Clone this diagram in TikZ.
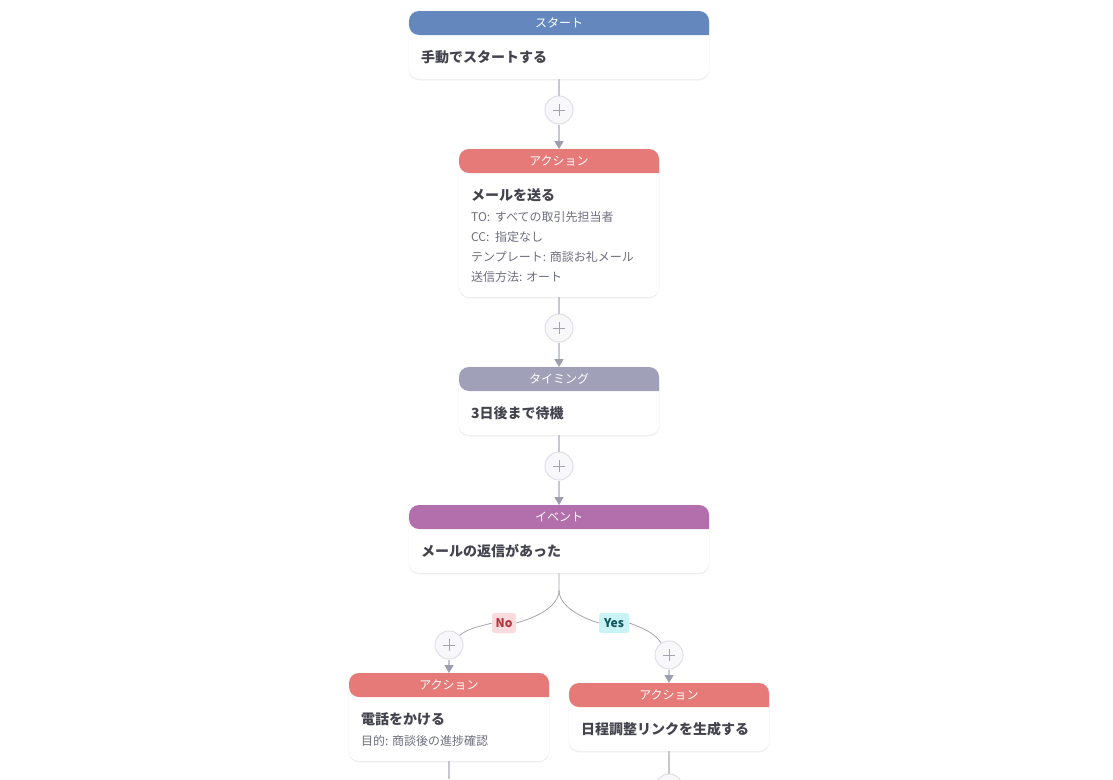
\documentclass[tikz,border=0pt]{standalone}
\usepackage{fontspec}
\setmainfont{Noto Sans CJK JP}
\usetikzlibrary{arrows.meta,shadows}
\definecolor{startblue}{HTML}{6488BE}
\definecolor{actionred}{HTML}{E57A78}
\definecolor{timinggray}{HTML}{A0A0B8}
\definecolor{eventpurple}{HTML}{B26FAB}
\definecolor{stemgray}{HTML}{C6C7D4}
\definecolor{tipgray}{HTML}{9C9EB0}
\definecolor{curvegray}{HTML}{A4A5B0}
\definecolor{titleink}{HTML}{44444F}
\definecolor{detailink}{HTML}{6E6F7E}
\definecolor{plusring}{HTML}{DEDFE8}
\definecolor{plusfill}{HTML}{F8F8FB}
\definecolor{plusink}{HTML}{A2A4B2}
\definecolor{nofill}{HTML}{FADCDF}
\definecolor{noink}{HTML}{B8343C}
\definecolor{yesfill}{HTML}{C9F3F5}
\definecolor{yesink}{HTML}{0F5560}
\tikzset{
	card/.style={rectangle,rounded corners=10pt,fill=white,inner sep=0pt,outer sep=0pt,minimum width=#1,
		preaction={draw=black!3,line width=1.4pt},
		drop shadow={opacity=0.10,shadow xshift=0pt,shadow yshift=-1.5pt}},
	headfill/.style={path picture={\fill[#1] (path picture bounding box.north west) rectangle ++(400,24);}},
	headtext/.style={text=white,font=\fontsize{12}{14}\selectfont,inner sep=0pt},
	titletext/.style={anchor=west,text=titleink,font=\fontsize{14}{16}\selectfont\bfseries,inner sep=0pt},
	detailtext/.style={anchor=west,text=detailink,font=\fontsize{12}{14}\selectfont,inner sep=0pt},
	plusnode/.style={circle,draw=plusring,line width=1pt,fill=plusfill,minimum size=28pt,inner sep=0pt,
		path picture={\draw[plusink,line width=0.9pt] (path picture bounding box.center) +(-6,0) -- +(6,0) +(0,-6) -- +(0,6);}},
	stem/.style={draw=stemgray,line width=1.6pt},
	stemtip/.style={stem,-{Triangle[width=9pt,length=8pt,color=tipgray]}},
	branch/.style={draw=curvegray,line width=0.8pt},
	choice/.style={rounded corners=2.5pt,inner xsep=3pt,minimum height=20pt,minimum width=#1,
		font=\fontsize{12}{14}\selectfont\bfseries},
}
\begin{document}
\begin{tikzpicture}[x=1pt,y=-1pt]
	\useasboundingbox (0,0) rectangle (1113,779);
	% cards
	\path (559,45) node[card=300pt,minimum height=68pt,headfill=startblue] (start) {}
	(start.north west) +(150,12) node[headtext] (startH) {スタート}
	+(12,46) node[titletext] (startT) {手動でスタートする};
	\path (559,223) node[card=200pt,minimum height=148pt,headfill=actionred] (mail) {}
	(mail.north west) +(100,12) node[headtext] (mailH) {アクション}
	+(12,46) node[titletext] (mailT) {メールを送る}
	+(12,67.7) node[detailtext] (mailA) {TO:\hspace{2pt} すべての取引先担当者}
	+(12,87.7) node[detailtext] (mailB) {CC:\hspace{3pt} 指定なし}
	+(12,107.7) node[detailtext] (mailC) {テンプレート: 商談お礼メール}
	+(12,127.7) node[detailtext] (mailD) {送信方法: オート};
	\path (559,401) node[card=200pt,minimum height=68pt,headfill=timinggray] (wait) {}
	(wait.north west) +(100,12) node[headtext] (waitH) {タイミング}
	+(12,46) node[titletext] (waitT) {3日後まで待機};
	\path (559,539) node[card=300pt,minimum height=68pt,headfill=eventpurple] (reply) {}
	(reply.north west) +(150,12) node[headtext] (replyH) {イベント}
	+(12,46) node[titletext] (replyT) {メールの返信があった};
	\path (449,717) node[card=200pt,minimum height=88pt,headfill=actionred] (call) {}
	(call.north west) +(100,12) node[headtext] (callH) {アクション}
	+(12,46) node[titletext] (callT) {電話をかける}
	+(12,67.7) node[detailtext] (callA) {目的: 商談後の進捗確認};
	\path (669,717) node[card=200pt,minimum height=68pt,headfill=actionred] (link) {}
	(link.north west) +(100,12) node[headtext] (linkH) {アクション}
	+(12,46) node[titletext] (linkT) {日程調整リンクを生成する};
	% add buttons
	\path (559,110) node[plusnode] (add1) {}
	(559,328) node[plusnode] (add2) {}
	(559,466) node[plusnode] (add3) {}
	(449,645) node[plusnode] (addno) {}
	(669,655) node[plusnode] (addyes) {}
	(669,788) node[plusnode] (addnext) {};
	\path (504,623) node[choice=24pt,fill=nofill,text=noink] (no) {No}
	(614,623) node[choice=30pt,fill=yesfill,text=yesink] (yes) {Yes};
	\coordinate (fork) at (559,590);
	\coordinate (callend) at (449,779);
	% connectors
	\draw[stem] (start) -- (add1);
	\draw[stemtip] (add1) -- (mail);
	\draw[stem] (mail) -- (add2);
	\draw[stemtip] (add2) -- (wait);
	\draw[stem] (wait) -- (add3);
	\draw[stemtip] (add3) -- (reply);
	\draw[stemtip] (addno) -- (call);
	\draw[stemtip] (addyes) -- (link);
	\draw[stem] (call) -- (callend);
	\draw[stem] (link) -- (addnext);
	\draw[branch] (reply.south) -- (fork) .. controls (559,606) and (538,617) .. (no.east);
	\draw[branch] (fork) .. controls (559,606) and (580,617) .. (yes.west);
	\draw[branch] (no.west) .. controls (482,626) and (468,628) .. (addno);
	\draw[branch] (yes.east) .. controls (640,627) and (654,632) .. (addyes);
\end{tikzpicture}
\end{document}
